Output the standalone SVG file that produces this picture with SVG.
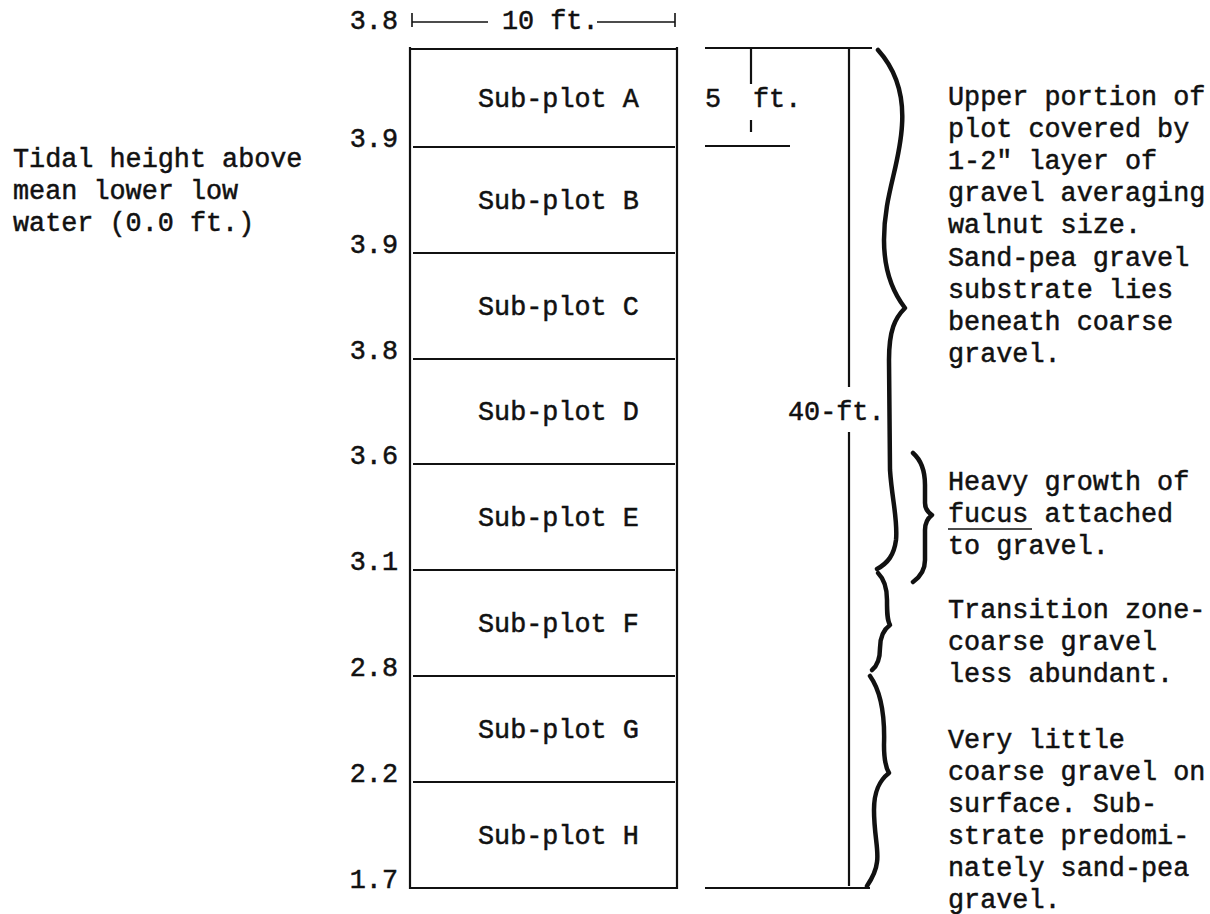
<svg xmlns="http://www.w3.org/2000/svg" width="1210" height="914" viewBox="0 0 1210 914">
<style>
  text { font-family: "Liberation Mono", "Courier New", monospace; font-size: 26.8px; fill: #111; stroke: #111; stroke-width: 0.5px; }
  .ln { stroke: #111; fill: none; stroke-width: 2.2; }
  .thin { stroke: #111; fill: none; stroke-width: 1.6; }
  .brace { stroke: #111; fill: none; stroke-width: 4.5; stroke-linecap: round; stroke-linejoin: round; }
</style>
<rect width="1210" height="914" fill="#fff"/>

<g id="axis-label">
  <text x="13" y="167">Tidal height above</text>
  <text x="13" y="199">mean lower low</text>
  <text x="13" y="231">water (0.0 ft.)</text>
</g>

<g id="heights" text-anchor="end">
  <text x="398" y="29" text-anchor="end">3.8</text>
  <text x="398" y="147" text-anchor="end">3.9</text>
  <text x="398" y="253" text-anchor="end">3.9</text>
  <text x="398" y="359" text-anchor="end">3.8</text>
  <text x="398" y="464" text-anchor="end">3.6</text>
  <text x="398" y="570" text-anchor="end">3.1</text>
  <text x="398" y="676" text-anchor="end">2.8</text>
  <text x="398" y="782" text-anchor="end">2.2</text>
  <text x="398" y="888" text-anchor="end">1.7</text>
</g>

<g id="width-dimension">
  <line class="thin" x1="412" y1="13" x2="412" y2="27"/>
  <line class="thin" x1="675" y1="13" x2="675" y2="27"/>
  <line class="thin" x1="412" y1="22" x2="488" y2="22"/>
  <line class="thin" x1="597" y1="22" x2="675" y2="22"/>
  <text x="502" y="29">10 ft.</text>
</g>

<g id="plot">
  <line class="ln" x1="410" y1="47" x2="410" y2="889"/>
  <line class="ln" x1="677" y1="47" x2="677" y2="889"/>
  <line class="ln" x1="410" y1="49" x2="677" y2="49"/>
  <line class="ln" x1="413" y1="147" x2="675" y2="147"/>
  <line class="ln" x1="413" y1="253" x2="675" y2="253"/>
  <line class="ln" x1="413" y1="359" x2="675" y2="359"/>
  <line class="ln" x1="413" y1="464" x2="675" y2="464"/>
  <line class="ln" x1="413" y1="570" x2="675" y2="570"/>
  <line class="ln" x1="413" y1="676" x2="675" y2="676"/>
  <line class="ln" x1="413" y1="782" x2="675" y2="782"/>
  <line class="ln" x1="410" y1="888" x2="677" y2="888"/>
</g>
<g id="subplot-a"><text x="478" y="107">Sub-plot A</text></g>
<g id="subplot-b"><text x="478" y="209">Sub-plot B</text></g>
<g id="subplot-c"><text x="478" y="315">Sub-plot C</text></g>
<g id="subplot-d"><text x="478" y="420">Sub-plot D</text></g>
<g id="subplot-e"><text x="478" y="526">Sub-plot E</text></g>
<g id="subplot-f"><text x="478" y="632">Sub-plot F</text></g>
<g id="subplot-g"><text x="478" y="738">Sub-plot G</text></g>
<g id="subplot-h"><text x="478" y="844">Sub-plot H</text></g>

<g id="length-dimensions">
  <line class="ln" x1="705" y1="48" x2="872" y2="48"/>
  <line class="ln" x1="751" y1="48" x2="751" y2="84"/>
  <line class="ln" x1="751" y1="120" x2="751" y2="132"/>
  <line class="ln" x1="705" y1="146" x2="790" y2="146"/>
  <text x="705" y="107">5 <tspan x="753">ft.</tspan></text>
  <line class="ln" x1="849" y1="48" x2="849" y2="387"/>
  <line class="ln" x1="849" y1="432" x2="849" y2="886"/>
  <line class="ln" x1="705" y1="888" x2="870" y2="888"/>
  <text x="788" y="420">40-ft.</text>
</g>

<g id="connectors">
  <path class="brace" d="M878,50 C896,70 904,95 902,125 C900,165 884,195 884,240 C884,275 895,295 905,308 C895,318 889,330 889,360 L890,470 C892,500 898,520 896,540 C894,555 888,563 877,569"/>
  <path class="brace" d="M913,453 C921,460 925,470 925,485 L925,503 C925,509 929,513 932,515 C928,518 925,522 925,530 L925,560 C925,570 920,577 913,582"/>
  <path class="brace" d="M878,573 C885,580 887,588 887,600 C887,612 887,620 890,625 C883,630 880,637 880,648 C880,660 877,666 872,670"/>
  <path class="brace" d="M870,676 C880,690 885,715 884,745 C884,760 886,768 889,773 C880,780 874,790 874,810 C874,835 879,850 877,862 C876,872 871,880 867,886"/>
</g>

<g id="note-upper">
  <text x="948" y="105">Upper portion of</text>
  <text x="948" y="137">plot covered by</text>
  <text x="948" y="169">1-2" layer of</text>
  <text x="948" y="201">gravel averaging</text>
  <text x="948" y="233">walnut size.</text>
  <text x="948" y="266">Sand-pea gravel</text>
  <text x="948" y="298">substrate lies</text>
  <text x="948" y="330">beneath coarse</text>
  <text x="948" y="362">gravel.</text>
</g>
<g id="note-fucus">
  <text x="948" y="490">Heavy growth of</text>
  <text x="948" y="522">fucus attached</text>
  <line class="thin" x1="948" y1="529" x2="1032" y2="529"/>
  <text x="948" y="554">to gravel.</text>
</g>
<g id="note-transition">
  <text x="948" y="618">Transition zone-</text>
  <text x="948" y="650">coarse gravel</text>
  <text x="948" y="682">less abundant.</text>
</g>
<g id="note-lower">
  <text x="948" y="748">Very little</text>
  <text x="948" y="780">coarse gravel on</text>
  <text x="948" y="812">surface. Sub-</text>
  <text x="948" y="844">strate predomi-</text>
  <text x="948" y="876">nately sand-pea</text>
  <text x="948" y="908">gravel.</text>
</g>
</svg>
